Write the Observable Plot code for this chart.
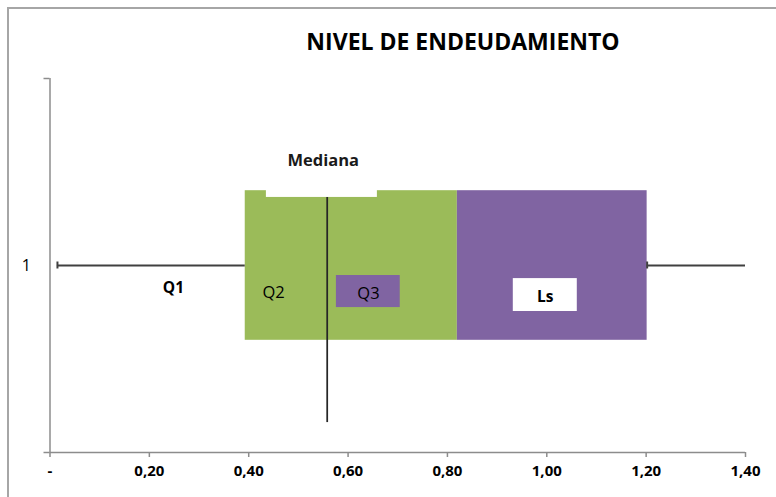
<!DOCTYPE html>
<html>
<head>
<meta charset="utf-8">
<script src="https://cdn.jsdelivr.net/npm/d3@7"></script>
<script src="https://cdn.jsdelivr.net/npm/@observablehq/plot@0.6"></script>
<style>
  html, body { margin: 0; padding: 0; background: #fff; }
  #wrap { position: relative; width: 776px; height: 497px; overflow: hidden; background: #fff; font-family: "Open Sans", sans-serif; }
  #frame { position: absolute; left: 7px; top: 7px; right: -4px; bottom: -4px; border-left: 2px solid #a6a6a6; border-top: 2px solid #a6a6a6; }
  #title { position: absolute; left: 463px; top: 26px; transform: translateX(-50%); white-space: nowrap; font-size: 23px; font-weight: 700; color: #000; line-height: 30px; }
  #chart { position: absolute; left: 0; top: 62px; }
</style>
</head>
<body>
<div id="wrap">
  <div id="frame"></div>
  <div id="title">NIVEL DE ENDEUDAMIENTO</div>
  <div id="chart"></div>
</div>
<script>
// ---- data ----
const categories = ["1"];
const categoryValue = [1];
const segNames = ["verde", "morado"];
const segStart = [0.393, 0.82];
const segEnd = [0.82, 1.202];
const segColors = ["#9BBB59", "#8064A2"];
const boxBottom = [0.6];
const boxTop = [1.4];
const whiskerFrom = [0.015, 1.202];
const whiskerTo = [0.393, 1.40];
const capAt = [0.015, 1.202];
const medianX = [0.558];
const medianLow = [0.16];
const medianHigh = [1.364];
const labelTexts = ["Mediana", "Q1", "Q2", "Q3", "Ls"];
const labelX = [0.55, 0.2485, 0.45, 0.641, 0.997];
const labelY = [1.561, 0.882, 0.856, 0.85, 0.829];
const labelWeight = [700, 700, 400, 400, 700];
const labelBoxNames = ["Mediana", "Q3", "Ls"];
const labelBoxX1 = [0.4356, 0.5765, 0.9326];
const labelBoxX2 = [0.659, 0.705, 1.0614];
const labelBoxY1 = [1.364, 0.775, 0.754];
const labelBoxY2 = [1.52, 0.9465, 0.93];
const labelBoxFill = ["#ffffff", "#8064A2", "#ffffff"];
const xTicks = [0, 0.2, 0.4, 0.6, 0.8, 1.0, 1.2, 1.4];
const xTickLabels = ["-", "0,20", "0,40", "0,60", "0,80", "1,00", "1,20", "1,40"];
const yEdges = [0, 2];

// ---- tables built from the arrays ----
const segs = segNames.map((n, i) => ({n, x1: segStart[i], x2: segEnd[i], y1: boxBottom[0], y2: boxTop[0], c: segColors[i]}));
const whiskers = whiskerFrom.map((a, i) => ({x1: a, x2: whiskerTo[i], y: categoryValue[0]}));
const caps = capAt.map(x => ({x, y: categoryValue[0]}));
const med = medianX.map((x, i) => ({x, y1: medianLow[i], y2: medianHigh[i]}));
const lboxes = labelBoxNames.map((n, i) => ({n, x1: labelBoxX1[i], x2: labelBoxX2[i], y1: labelBoxY1[i], y2: labelBoxY2[i], f: labelBoxFill[i]}));
const labels = labelTexts.map((t, i) => ({t, x: labelX[i], y: labelY[i], w: labelWeight[i]}));
const tickFmt = new Map(xTicks.map((t, i) => [t, xTickLabels[i]]));
const axisGray = "#8c8c8c";

const plot = Plot.plot({
  width: 776,
  height: 435,
  marginLeft: 49.5,
  marginRight: 31,
  marginTop: 16,
  marginBottom: 45,
  style: {fontFamily: "'Open Sans', sans-serif", color: "#000", background: "transparent", overflow: "visible"},
  x: {domain: [0, 1.4]},
  y: {domain: [0, 2]},
  marks: [
    // box segments
    Plot.rect(segs, {x1: "x1", x2: "x2", y1: "y1", y2: "y2", fill: "c"}),
    // whiskers
    Plot.ruleY(whiskers, {x1: "x1", x2: "x2", y: "y", stroke: "#404040", strokeWidth: 2}),
    Plot.ruleX(caps, {x: "x", y1: "y", y2: "y", insetTop: -3.5, insetBottom: -3.5, stroke: "#404040", strokeWidth: 2}),
    // median line
    Plot.ruleX(med, {x: "x", y1: "y1", y2: "y2", stroke: "#262626", strokeWidth: 1.75}),
    // label backgrounds
    Plot.rect(lboxes, {x1: "x1", x2: "x2", y1: "y1", y2: "y2", fill: "f"}),
    // labels
    Plot.text(labels.filter(d => d.t === "Mediana"), {x: "x", y: "y", text: "t", fontSize: 16.5, fontWeight: 700, fill: "#1a1a1a"}),
    Plot.text(labels.filter(d => d.t !== "Mediana" && d.w === 700), {x: "x", y: "y", text: "t", fontSize: 15.5, fontWeight: 700, fill: "#000"}),
    Plot.text(labels.filter(d => d.w === 400), {x: "x", y: "y", text: "t", fontSize: 16.5, fontWeight: 400, fill: "#000"}),
    // axis lines
    Plot.ruleX([0], {y1: yEdges[0], y2: yEdges[1], stroke: axisGray, strokeWidth: 1.5}),
    Plot.ruleY(yEdges, {x1: 0, x2: 0, insetLeft: -6, stroke: axisGray, strokeWidth: 1.5}),
    Plot.ruleY([0], {x1: 0, x2: 1.4, stroke: axisGray, strokeWidth: 1.5}),
    Plot.axisX({ticks: xTicks, tickFormat: d => tickFmt.get(d) ?? "", tickSize: 5, tickPadding: 8, stroke: axisGray, strokeWidth: 1.5, fontSize: 15, fontWeight: 700, fill: "#000", label: null}),
    Plot.axisY({ticks: categoryValue, tickFormat: (d, i) => categories[i], tickSize: 0, tickPadding: 19, fontSize: 16, fill: "#000", label: null})
  ]
});
document.getElementById("chart").appendChild(plot);
</script>
</body>
</html>
